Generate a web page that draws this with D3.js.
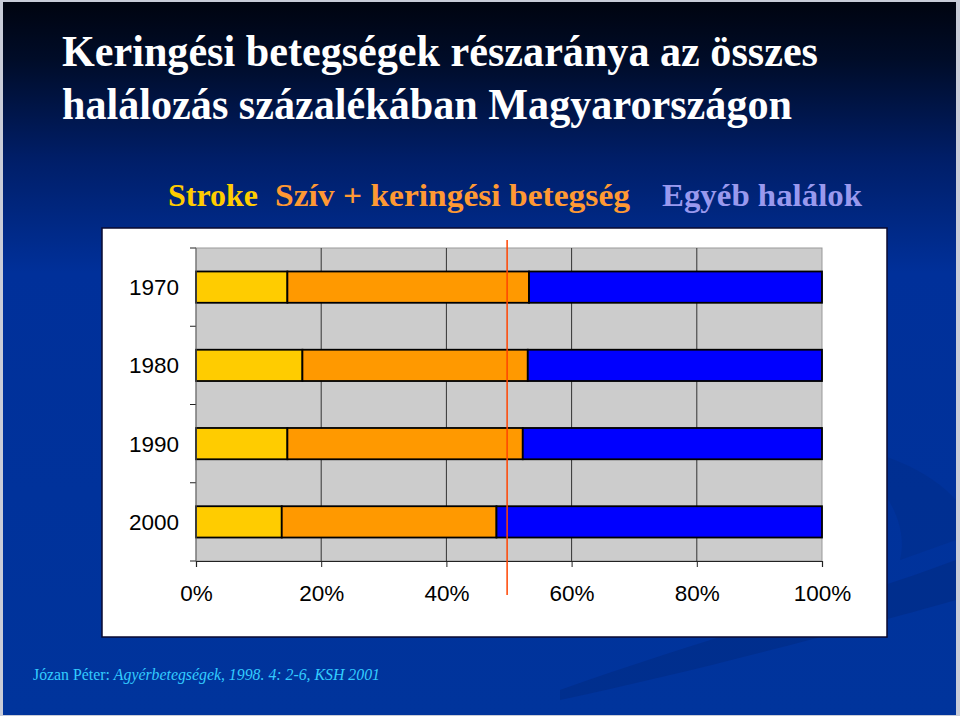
<!DOCTYPE html>
<html><head><meta charset="utf-8">
<script src="https://cdn.jsdelivr.net/npm/d3@7/dist/d3.min.js"></script>
<style>html,body{margin:0;padding:0;background:#fff;overflow:hidden}</style>
</head><body>
<svg id="c" width="960" height="716"></svg>
<script>
// ---- data ----
const categories = ["1970", "1980", "1990", "2000"];
const seriesNames = ["Stroke", "Szív + keringési betegség", "Egyéb halálok"];
const stroke = [14.6, 17.0, 14.6, 13.7];
const heart = [38.6, 36.0, 37.6, 34.3];
const other = [46.8, 47.0, 47.8, 52.0];
const xTicks = [0, 20, 40, 60, 80, 100];
const refLine = 49.7;
const titleLines = ["Keringési betegségek részaránya az összes", "halálozás százalékában Magyarországon"];

const svg = d3.select("#c");
const defs = svg.append("defs");
const g = defs.append("linearGradient").attr("id","bg").attr("x1",0).attr("y1",0).attr("x2",0).attr("y2",1);
g.append("stop").attr("offset","0%").attr("stop-color","#000410");
g.append("stop").attr("offset","8%").attr("stop-color","#000c28");
g.append("stop").attr("offset","22%").attr("stop-color","#001e68");
g.append("stop").attr("offset","38%").attr("stop-color","#00309a");
g.append("stop").attr("offset","100%").attr("stop-color","#00349c");

svg.append("rect").attr("width",960).attr("height",716).attr("fill","#c8ccd8");
svg.append("rect").attr("x",3).attr("y",2).attr("width",953).attr("height",713).attr("fill","url(#bg)");

// subtle swooshes
svg.append("path").attr("d","M560,690 C700,640 850,600 956,560 L956,600 C850,630 700,670 560,700 Z").attr("fill","#002a80").attr("opacity",0.5);
svg.append("path").attr("d","M820,440 C880,470 910,520 900,560 L956,540 L956,500 C930,470 880,450 820,440 Z").attr("fill","#002a80").attr("opacity",0.35);

const serif = "'Liberation Serif','Times New Roman',Times,serif";
const sans = "'Liberation Sans',Arial,Helvetica,sans-serif";

// title
svg.selectAll("text.title").data(titleLines).join("text")
  .attr("class","title")
  .attr("x",62).attr("y",(d,i)=>66+i*53)
  .attr("fill","#ffffff")
  .attr("font-family",serif)
  .attr("font-weight","bold").attr("font-size",44)
  .attr("textLength",(d,i)=>[756,730][i]).attr("lengthAdjust","spacingAndGlyphs")
  .text(d=>d);

// legend text
const legendColors = ["#ffcc00","#ff9933","#9999ee"];
const legendX = [168, 275, 662];
const legendW = [90, 355, 200];
svg.selectAll("text.leg").data(seriesNames).join("text")
  .attr("class","leg")
  .attr("x",(d,i)=>legendX[i]).attr("y",206)
  .attr("fill",(d,i)=>legendColors[i])
  .attr("font-family",serif)
  .attr("font-weight","bold").attr("font-size",31)
  .attr("textLength",(d,i)=>legendW[i]).attr("lengthAdjust","spacingAndGlyphs")
  .text(d=>d);

// chart box
svg.append("rect").attr("x",102).attr("y",228).attr("width",785).attr("height",409)
  .attr("fill","#ffffff").attr("stroke","#0a0a30").attr("stroke-width",1.5);

const L=196, R=822, T=248, B=561;
const x = d3.scaleLinear().domain([0,100]).range([L,R]);
const y = d3.scaleBand().domain(categories).range([T,B]).paddingInner(0.6).paddingOuter(0.3);
const yb = d3.scaleBand().domain(categories).range([T,B]);

svg.append("rect").attr("x",L).attr("y",T).attr("width",R-L).attr("height",B-T)
  .attr("fill","#cccccc").attr("stroke","#999999").attr("stroke-width",1);

// gridlines
svg.append("g").selectAll("line").data(xTicks.slice(1,-1)).join("line")
  .attr("x1",d=>x(d)).attr("x2",d=>x(d)).attr("y1",T).attr("y2",B)
  .attr("stroke","#333333").attr("stroke-width",1);

// stacked bars
const rows = categories.map((c,i)=>({cat:c, s0:stroke[i], s1:heart[i], s2:other[i]}));
const stack = d3.stack().keys(["s0","s1","s2"])(rows);
const barColors = ["#ffcc00","#ff9900","#0000ff"];
svg.append("g").selectAll("g").data(stack).join("g")
  .attr("fill",(d,i)=>barColors[i])
  .selectAll("rect").data(d=>d).join("rect")
  .attr("x",d=>x(d[0])).attr("width",d=>x(d[1])-x(d[0]))
  .attr("y",d=>y(d.data.cat)).attr("height",y.bandwidth())
  .attr("stroke","#000000").attr("stroke-width",1.8);

// axes
const xAxis = d3.axisBottom(x).tickValues(xTicks).tickFormat(d=>d+"%").tickSize(6).tickPadding(18);
const ax = svg.append("g").attr("transform",`translate(0,${B})`).call(xAxis);
ax.select(".domain").attr("stroke","#222").attr("stroke-width",1.2);
ax.selectAll(".tick line").attr("stroke","#222");
ax.selectAll("text").attr("font-family",sans).attr("font-size",22.5).attr("fill","#000");

const ayg = svg.append("g").attr("transform",`translate(${L},0)`);
ayg.selectAll("line").data(categories.concat(["end"])).join("line")
  .attr("x1",-6).attr("x2",0)
  .attr("y1",(d,i)=> i<categories.length ? yb(d) : B)
  .attr("y2",(d,i)=> i<categories.length ? yb(d) : B)
  .attr("stroke","#222");
ayg.append("line").attr("x1",0).attr("x2",0).attr("y1",T).attr("y2",B).attr("stroke","#666");
ayg.selectAll("text").data(categories).join("text")
  .attr("x",-17).attr("y",d=>yb(d)+yb.bandwidth()/2).attr("dy","0.36em")
  .attr("text-anchor","end")
  .attr("font-family",sans).attr("font-size",22.5).attr("fill","#000")
  .text(d=>d);

// reference line
svg.append("line").attr("x1",x(refLine)).attr("x2",x(refLine)).attr("y1",240).attr("y2",595)
  .attr("stroke","#ff4400").attr("stroke-width",1.5);

// footer
const ft = svg.append("text").attr("x",33).attr("y",680)
  .attr("font-family",serif).attr("font-size",15.8).attr("fill","#33ccff")
  .attr("textLength",347).attr("lengthAdjust","spacingAndGlyphs");
ft.append("tspan").text("Józan Péter: ");
ft.append("tspan").attr("font-style","italic").text("Agyérbetegségek, 1998. 4: 2-6, KSH 2001");
</script>
</body></html>
